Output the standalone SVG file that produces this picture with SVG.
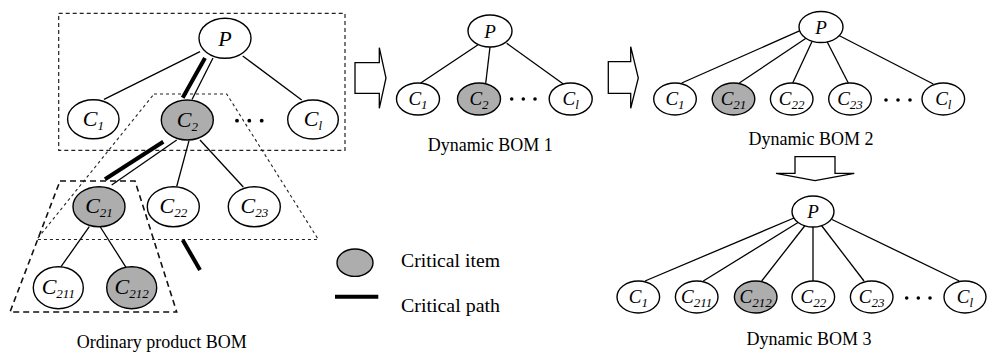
<svg xmlns="http://www.w3.org/2000/svg" width="987" height="353" viewBox="0 0 987 353">
  <style>
    .node { fill: #ffffff; stroke: #000; stroke-width: 1.4; }
    .crit { fill: #adadad; stroke: #000; stroke-width: 1.4; }
    .edge { stroke: #000; stroke-width: 1.3; fill: none; }
    .thick { stroke: #000; stroke-width: 4; fill: none; }
    .lbl { font-family: "Liberation Serif", "Times New Roman", serif; font-style: italic; fill: #000; text-anchor: middle; }
    .big { font-size: 22px; }
    .small { font-size: 19px; }
    .sub { font-size: 13px; }
    .cap { font-family: "Liberation Serif", "Times New Roman", serif; font-size: 18px; fill: #000; text-anchor: middle; }
    .legend { font-family: "Liberation Serif", "Times New Roman", serif; font-size: 18px; fill: #000; }
    .arrow { fill: #fff; stroke: #000; stroke-width: 1.3; }
    .dot { fill: #000; }
    .box1 { fill: none; stroke: #222; stroke-width: 1.2; stroke-dasharray: 4 3; }
    .box2 { fill: none; stroke: #222; stroke-width: 1.1; stroke-dasharray: 3 3; }
    .box3 { fill: none; stroke: #111; stroke-width: 1.6; stroke-dasharray: 6 4; }
  </style>

  <!-- grouping frames of the ordinary BOM -->
  <g id="frames">
    <rect class="box1" x="58.7" y="13.3" width="286.3" height="137"/>
    <polygon class="box2" points="154,94 226.7,94 318.3,239.5 36.7,239.5"/>
    <polygon class="box3" points="60,181 135,181 176.7,312 10,312"/>
  </g>

  <!-- connectors -->
  <g id="connectors">
    <!-- ordinary product BOM -->
    <line class="edge" x1="200" y1="51.7" x2="104" y2="99.3"/>
    <line class="edge" x1="242.7" y1="56" x2="301.7" y2="100"/>
    <line class="edge" x1="213" y1="58" x2="192" y2="99.5"/>
    <line class="thick" x1="205" y1="58" x2="182.7" y2="97.7"/>
    <line class="edge" x1="176.7" y1="140" x2="111.7" y2="185"/>
    <line class="thick" x1="163.3" y1="141.7" x2="105" y2="179.3"/>
    <line class="edge" x1="189" y1="140.7" x2="176.7" y2="186.5"/>
    <line class="edge" x1="200" y1="140" x2="243.3" y2="187"/>
    <line class="edge" x1="89.3" y1="226.7" x2="61" y2="266.7"/>
    <line class="edge" x1="100" y1="226.5" x2="126" y2="267.3"/>
    <line class="thick" x1="182.7" y1="240" x2="200" y2="270"/>
    <!-- dynamic BOM 1 -->
    <line class="edge" x1="477.7" y1="45" x2="420.7" y2="83"/>
    <line class="edge" x1="490" y1="47" x2="485.7" y2="83.5"/>
    <line class="edge" x1="506.7" y1="43.3" x2="563.3" y2="84"/>
    <!-- dynamic BOM 2 -->
    <line class="edge" x1="800" y1="30.7" x2="681.7" y2="83"/>
    <line class="edge" x1="806" y1="38.3" x2="739.3" y2="83"/>
    <line class="edge" x1="812" y1="41.5" x2="792.7" y2="83"/>
    <line class="edge" x1="827" y1="41.5" x2="848.3" y2="83"/>
    <line class="edge" x1="838" y1="35" x2="933.3" y2="84"/>
    <!-- dynamic BOM 3 -->
    <line class="edge" x1="794" y1="218" x2="645" y2="281"/>
    <line class="edge" x1="798" y1="222.5" x2="703.3" y2="281"/>
    <line class="edge" x1="805" y1="225.5" x2="761.7" y2="281"/>
    <line class="edge" x1="813" y1="226.5" x2="813" y2="281"/>
    <line class="edge" x1="821.5" y1="225.5" x2="864" y2="281"/>
    <line class="edge" x1="832" y1="219.5" x2="959.3" y2="281"/>
  </g>

  <!-- ordinary product BOM nodes -->
  <g id="o-P"><ellipse class="node" cx="225" cy="38.3" rx="26" ry="20"/><text class="lbl big" x="225" y="45.5">P</text></g>
  <g id="o-C1"><ellipse class="node" cx="93.3" cy="119.3" rx="25.7" ry="19.5"/><text class="lbl big" x="93.3" y="126">C<tspan class="sub" dy="4">1</tspan></text></g>
  <g id="o-C2"><ellipse class="crit" cx="187.3" cy="120" rx="26" ry="20"/><text class="lbl big" x="187.3" y="126.5">C<tspan class="sub" dy="4">2</tspan></text></g>
  <g id="o-dots"><circle class="dot" cx="237" cy="120.7" r="1.9"/><circle class="dot" cx="249.3" cy="120.7" r="1.9"/><circle class="dot" cx="261.7" cy="120.7" r="1.9"/></g>
  <g id="o-Cl"><ellipse class="node" cx="313" cy="119.5" rx="25.3" ry="19.5"/><text class="lbl big" x="313" y="126">C<tspan class="sub" dy="4">l</tspan></text></g>
  <g id="o-C21"><ellipse class="crit" cx="99" cy="206.7" rx="26" ry="20"/><text class="lbl big" x="99" y="213">C<tspan class="sub" dy="4">21</tspan></text></g>
  <g id="o-C22"><ellipse class="node" cx="173.3" cy="206.7" rx="26" ry="20"/><text class="lbl big" x="173.3" y="213">C<tspan class="sub" dy="4">22</tspan></text></g>
  <g id="o-C23"><ellipse class="node" cx="254.3" cy="206.7" rx="26" ry="20"/><text class="lbl big" x="254.3" y="213">C<tspan class="sub" dy="4">23</tspan></text></g>
  <g id="o-C211"><ellipse class="node" cx="58.3" cy="287.7" rx="25" ry="21"/><text class="lbl big" x="58.3" y="294">C<tspan class="sub" dy="4">211</tspan></text></g>
  <g id="o-C212"><ellipse class="crit" cx="131.7" cy="287.7" rx="25" ry="21"/><text class="lbl big" x="131.7" y="294">C<tspan class="sub" dy="4">212</tspan></text></g>
  <text class="cap" x="161.7" y="347.5">Ordinary product BOM</text>

  <!-- transition arrows -->
  <g id="arrow-1"><polygon class="arrow" points="355,62.7 379.3,62.7 379.3,47.7 386,78 379.3,108.3 379.3,93.3 355,93.3"/></g>
  <g id="arrow-2"><polygon class="arrow" points="608.3,61.7 630.7,61.7 630.7,46.7 638.3,78 630.7,108.3 630.7,93.3 608.3,93.3"/></g>
  <g id="arrow-3"><polygon class="arrow" points="795,156.7 835,156.7 835,173.3 854.3,173.3 815,180.7 776,173.3 795,173.3"/></g>

  <!-- dynamic BOM 1 -->
  <g id="d1-P"><ellipse class="node" cx="490" cy="31" rx="22" ry="16"/><text class="lbl small" x="490" y="37.5">P</text></g>
  <g id="d1-C1"><ellipse class="node" cx="418" cy="99" rx="21.5" ry="16"/><text class="lbl small" x="418" y="105">C<tspan class="sub" dy="3.5">1</tspan></text></g>
  <g id="d1-C2"><ellipse class="crit" cx="479" cy="99" rx="21.5" ry="16"/><text class="lbl small" x="479" y="105">C<tspan class="sub" dy="3.5">2</tspan></text></g>
  <g id="d1-dots"><circle class="dot" cx="511.7" cy="99" r="1.8"/><circle class="dot" cx="523.3" cy="99" r="1.8"/><circle class="dot" cx="535" cy="99" r="1.8"/></g>
  <g id="d1-Cl"><ellipse class="node" cx="570.7" cy="99" rx="21.5" ry="16"/><text class="lbl small" x="570.7" y="105">C<tspan class="sub" dy="3.5">l</tspan></text></g>
  <text class="cap" x="490.3" y="151">Dynamic BOM 1</text>

  <!-- dynamic BOM 2 -->
  <g id="d2-P"><ellipse class="node" cx="821" cy="27" rx="22" ry="15.5"/><text class="lbl small" x="821" y="33.5">P</text></g>
  <g id="d2-C1"><ellipse class="node" cx="675" cy="99" rx="21.3" ry="16"/><text class="lbl small" x="675" y="105">C<tspan class="sub" dy="3.5">1</tspan></text></g>
  <g id="d2-C21"><ellipse class="crit" cx="733.5" cy="99" rx="21.3" ry="16"/><text class="lbl small" x="733.5" y="105">C<tspan class="sub" dy="3.5">21</tspan></text></g>
  <g id="d2-C22"><ellipse class="node" cx="791.7" cy="99" rx="21.3" ry="16"/><text class="lbl small" x="791.7" y="105">C<tspan class="sub" dy="3.5">22</tspan></text></g>
  <g id="d2-C23"><ellipse class="node" cx="850" cy="99" rx="21.3" ry="16"/><text class="lbl small" x="850" y="105">C<tspan class="sub" dy="3.5">23</tspan></text></g>
  <g id="d2-dots"><circle class="dot" cx="886" cy="100" r="1.8"/><circle class="dot" cx="898" cy="100" r="1.8"/><circle class="dot" cx="910" cy="100" r="1.8"/></g>
  <g id="d2-Cl"><ellipse class="node" cx="943.3" cy="99" rx="21.3" ry="16"/><text class="lbl small" x="943.3" y="105">C<tspan class="sub" dy="3.5">l</tspan></text></g>
  <text class="cap" x="811" y="145">Dynamic BOM 2</text>

  <!-- dynamic BOM 3 -->
  <g id="d3-P"><ellipse class="node" cx="813" cy="211.5" rx="21" ry="15.5"/><text class="lbl small" x="813" y="218">P</text></g>
  <g id="d3-C1"><ellipse class="node" cx="638.3" cy="297" rx="21.3" ry="16"/><text class="lbl small" x="638.3" y="303">C<tspan class="sub" dy="3.5">1</tspan></text></g>
  <g id="d3-C211"><ellipse class="node" cx="696.7" cy="297" rx="21.3" ry="16"/><text class="lbl small" x="696.7" y="303">C<tspan class="sub" dy="3.5">211</tspan></text></g>
  <g id="d3-C212"><ellipse class="crit" cx="755.7" cy="297" rx="21.3" ry="16"/><text class="lbl small" x="755.7" y="303">C<tspan class="sub" dy="3.5">212</tspan></text></g>
  <g id="d3-C22"><ellipse class="node" cx="813.3" cy="297" rx="21.3" ry="16"/><text class="lbl small" x="813.3" y="303">C<tspan class="sub" dy="3.5">22</tspan></text></g>
  <g id="d3-C23"><ellipse class="node" cx="871.7" cy="297" rx="21.3" ry="16"/><text class="lbl small" x="871.7" y="303">C<tspan class="sub" dy="3.5">23</tspan></text></g>
  <g id="d3-dots"><circle class="dot" cx="906.7" cy="298" r="1.8"/><circle class="dot" cx="918.3" cy="298" r="1.8"/><circle class="dot" cx="930" cy="298" r="1.8"/></g>
  <g id="d3-Cl"><ellipse class="node" cx="965" cy="297" rx="21" ry="16"/><text class="lbl small" x="965" y="303">C<tspan class="sub" dy="3.5">l</tspan></text></g>
  <text class="cap" x="809" y="345">Dynamic BOM 3</text>

  <!-- legend -->
  <g id="legend">
    <ellipse class="crit" cx="355" cy="262.7" rx="18" ry="13.7"/>
    <text class="legend" x="401" y="266.7" textLength="99" lengthAdjust="spacingAndGlyphs">Critical item</text>
    <line class="thick" x1="335" y1="296.7" x2="378.3" y2="296.7"/>
    <text class="legend" x="401" y="311.7" textLength="99" lengthAdjust="spacingAndGlyphs">Critical path</text>
  </g>
</svg>
